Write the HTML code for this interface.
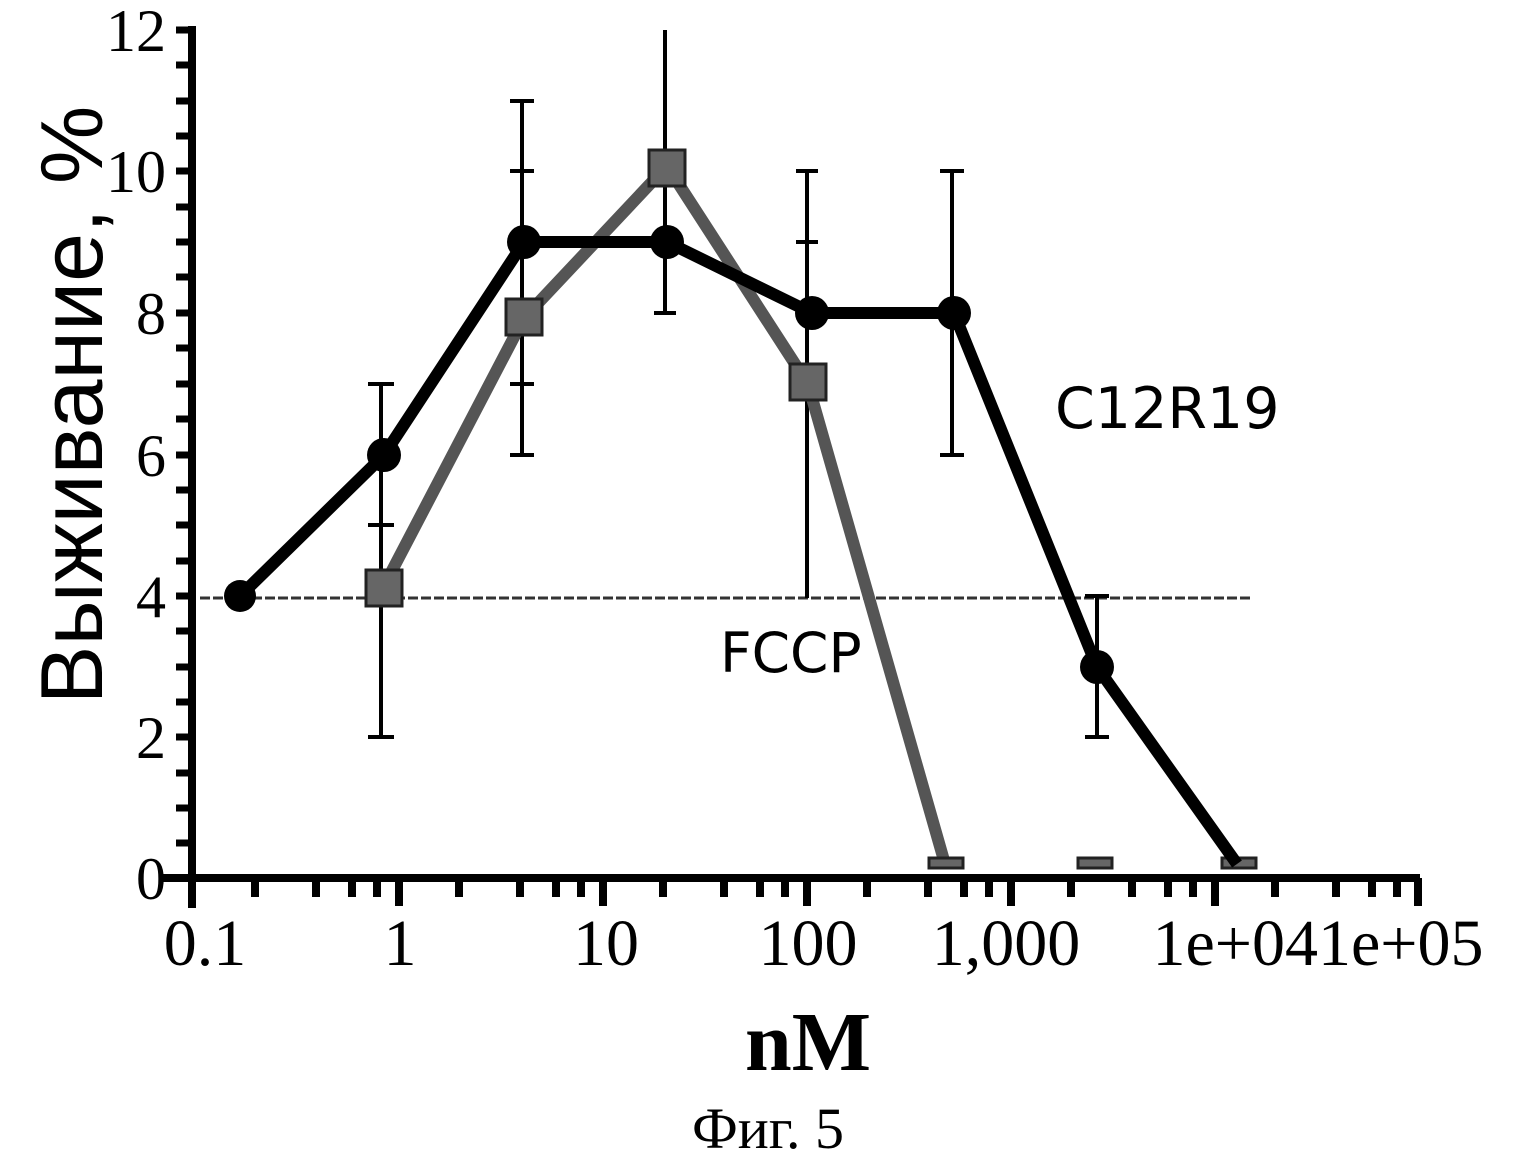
<!DOCTYPE html>
<html><head><meta charset="utf-8"><style>body{margin:0;background:#fff}svg{display:block}</style></head>
<body>
<svg width="1521" height="1156" viewBox="0 0 1521 1156" xmlns="http://www.w3.org/2000/svg">
<g stroke="#000" stroke-width="8">
<line x1="192" y1="26" x2="192" y2="908"/>
<line x1="160" y1="878" x2="1420" y2="878"/>
</g>
<g stroke="#000" stroke-width="7">
<line x1="176" y1="30" x2="192" y2="30"/><line x1="176" y1="65" x2="192" y2="65"/><line x1="176" y1="101" x2="192" y2="101"/><line x1="176" y1="136" x2="192" y2="136"/><line x1="176" y1="171" x2="192" y2="171"/><line x1="176" y1="207" x2="192" y2="207"/><line x1="176" y1="242" x2="192" y2="242"/><line x1="176" y1="277" x2="192" y2="277"/><line x1="176" y1="313" x2="192" y2="313"/><line x1="176" y1="348" x2="192" y2="348"/><line x1="176" y1="384" x2="192" y2="384"/><line x1="176" y1="419" x2="192" y2="419"/><line x1="176" y1="455" x2="192" y2="455"/><line x1="176" y1="490" x2="192" y2="490"/><line x1="176" y1="525" x2="192" y2="525"/><line x1="176" y1="561" x2="192" y2="561"/><line x1="176" y1="596" x2="192" y2="596"/><line x1="176" y1="631" x2="192" y2="631"/><line x1="176" y1="667" x2="192" y2="667"/><line x1="176" y1="702" x2="192" y2="702"/><line x1="176" y1="737" x2="192" y2="737"/><line x1="176" y1="773" x2="192" y2="773"/><line x1="176" y1="808" x2="192" y2="808"/><line x1="176" y1="843" x2="192" y2="843"/>
</g>
<g stroke="#000" stroke-width="8">
<line x1="399" y1="878" x2="399" y2="906"/><line x1="603" y1="878" x2="603" y2="906"/><line x1="807" y1="878" x2="807" y2="906"/><line x1="1011" y1="878" x2="1011" y2="906"/><line x1="1215" y1="878" x2="1215" y2="906"/><line x1="1418" y1="878" x2="1418" y2="906"/>
</g>
<g stroke="#000" stroke-width="8">
<line x1="255" y1="878" x2="255" y2="897"/><line x1="316" y1="878" x2="316" y2="897"/><line x1="352" y1="878" x2="352" y2="897"/><line x1="377" y1="878" x2="377" y2="897"/>
<line x1="459" y1="878" x2="459" y2="897"/><line x1="520" y1="878" x2="520" y2="897"/><line x1="556" y1="878" x2="556" y2="897"/><line x1="581" y1="878" x2="581" y2="897"/>
<line x1="663" y1="878" x2="663" y2="897"/><line x1="724" y1="878" x2="724" y2="897"/><line x1="760" y1="878" x2="760" y2="897"/><line x1="785" y1="878" x2="785" y2="897"/>
<line x1="867" y1="878" x2="867" y2="897"/><line x1="928" y1="878" x2="928" y2="897"/><line x1="964" y1="878" x2="964" y2="897"/><line x1="989" y1="878" x2="989" y2="897"/>
<line x1="1071" y1="878" x2="1071" y2="897"/><line x1="1132" y1="878" x2="1132" y2="897"/><line x1="1168" y1="878" x2="1168" y2="897"/><line x1="1193" y1="878" x2="1193" y2="897"/>
<line x1="1275" y1="878" x2="1275" y2="897"/><line x1="1336" y1="878" x2="1336" y2="897"/><line x1="1372" y1="878" x2="1372" y2="897"/><line x1="1397" y1="878" x2="1397" y2="897"/>
</g>
<g font-family="Liberation Serif, serif" font-size="60" text-anchor="end">
<text x="166" y="51">12</text><text x="166" y="192">10</text><text x="166" y="334">8</text><text x="166" y="476">6</text><text x="166" y="617">4</text><text x="166" y="758">2</text><text x="166" y="899">0</text>
</g>
<g font-family="Liberation Serif, serif" font-size="66" text-anchor="middle">
<text x="205" y="965">0.1</text><text x="400" y="965">1</text><text x="606" y="965">10</text><text x="808" y="965">100</text><text x="1006" y="965">1,000</text>
</g>
<g font-family="Liberation Serif, serif" font-size="66">
<text x="1318" y="965" text-anchor="end">1e+04</text><text x="1318" y="965">1e+05</text>
</g>
<text x="808" y="1070" font-family="Liberation Serif, serif" font-size="84" font-weight="bold" text-anchor="middle">nM</text>
<text x="768" y="1148" font-family="Liberation Serif, serif" font-size="58" text-anchor="middle">Фиг. 5</text>
<text transform="translate(102,405) rotate(-90)" font-family="Liberation Sans, sans-serif" font-size="88" text-anchor="middle">Выживание, %</text>
<text x="1055" y="428" font-family="DejaVu Sans, sans-serif" font-size="57">C12R19</text>
<text x="720" y="672" font-family="DejaVu Sans, sans-serif" font-size="55">FCCP</text>
<line x1="200" y1="598" x2="1250" y2="598" stroke="#333" stroke-width="3" stroke-dasharray="10 3"/>
<g stroke="#000" stroke-width="4">
<line x1="381" y1="384" x2="381" y2="737"/><line x1="368" y1="384" x2="394" y2="384"/><line x1="368" y1="525" x2="394" y2="525"/><line x1="368" y1="737" x2="394" y2="737"/>
<line x1="522" y1="101" x2="522" y2="455"/><line x1="510" y1="101" x2="534" y2="101"/><line x1="510" y1="171" x2="534" y2="171"/><line x1="510" y1="384" x2="534" y2="384"/><line x1="510" y1="455" x2="534" y2="455"/>
<line x1="665" y1="30" x2="665" y2="313"/><line x1="654" y1="313" x2="676" y2="313"/>
<line x1="807" y1="171" x2="807" y2="598"/><line x1="796" y1="171" x2="818" y2="171"/><line x1="796" y1="242" x2="818" y2="242"/>
<line x1="952" y1="171" x2="952" y2="455"/><line x1="940" y1="171" x2="964" y2="171"/><line x1="940" y1="455" x2="964" y2="455"/>
<line x1="1097" y1="596" x2="1097" y2="737"/><line x1="1085" y1="596" x2="1109" y2="596"/><line x1="1085" y1="737" x2="1109" y2="737"/>
</g>
<polyline points="384,586 524,318 667,166 808,384 945,864" fill="none" stroke="#555" stroke-width="12"/>
<g fill="#666" stroke="#222" stroke-width="3">
<rect x="366" y="570" width="36" height="36"/><rect x="506" y="299" width="36" height="36"/><rect x="649" y="150" width="36" height="36"/><rect x="790" y="364" width="36" height="36"/>
<rect x="929" y="858" width="34" height="10"/><rect x="1078" y="858" width="34" height="10"/><rect x="1222" y="858" width="34" height="10"/>
</g>
<polyline points="240,596 384,455 524,242 667,242 812,313 954,313 1097,667 1237,864" fill="none" stroke="#000" stroke-width="12"/>
<g fill="#000">
<circle cx="240" cy="596" r="16"/><circle cx="384" cy="455" r="17"/><circle cx="524" cy="242" r="17"/><circle cx="667" cy="242" r="17"/><circle cx="812" cy="313" r="17"/><circle cx="954" cy="313" r="17"/><circle cx="1097" cy="667" r="17"/>
</g>
</svg>
</body></html>
